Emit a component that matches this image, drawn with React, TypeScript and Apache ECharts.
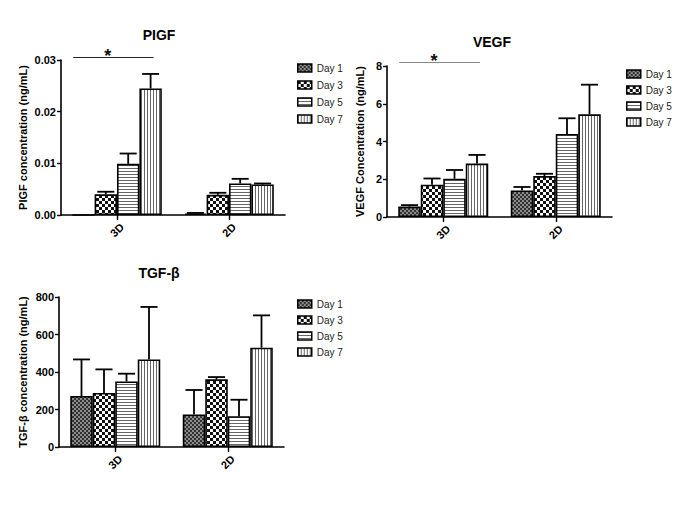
import React, { useEffect, useRef } from "react";
import * as echarts from "echarts";

const categories = ["3D", "2D"];
const dayNames = ["Day 1", "Day 3", "Day 5", "Day 7"];

// PIGF (ng/mL), values per category [3D, 2D]
const pigfDay1 = [0, 0.0003];
const pigfDay3 = [0.004, 0.0039];
const pigfDay5 = [0.0099, 0.0061];
const pigfDay7 = [0.0245, 0.0059];
const pigfErr1 = [0, 0.0001];
const pigfErr3 = [0.0005, 0.0004];
const pigfErr5 = [0.002, 0.0009];
const pigfErr7 = [0.0028, 0.0002];

// VEGF (ng/mL)
const vegfDay1 = [0.55, 1.41];
const vegfDay3 = [1.71, 2.17];
const vegfDay5 = [2.03, 4.4];
const vegfDay7 = [2.83, 5.44];
const vegfErr1 = [0.08, 0.18];
const vegfErr3 = [0.33, 0.12];
const vegfErr5 = [0.46, 0.83];
const vegfErr7 = [0.46, 1.57];

// TGF-beta (ng/mL)
const tgfDay1 = [272, 174];
const tgfDay3 = [288, 361];
const tgfDay5 = [350, 164];
const tgfDay7 = [467, 530];
const tgfErr1 = [195, 130];
const tgfErr3 = [126, 12];
const tgfErr5 = [41, 88];
const tgfErr7 = [280, 172];

// y-axis ticks
const pigfTicks = [0, 0.01, 0.02, 0.03];
const vegfTicks = [0, 2, 4, 6, 8];
const tgfTicks = [0, 200, 400, 600, 800];

// significance bars: level above the 3D group
const pigfSig = [0.0306];
const vegfSig = [8.21];

const FONT = "Liberation Sans, Arial, Helvetica, sans-serif";
const GAP = 0.2;

function makePattern(kind: string) {
  const cv = document.createElement("canvas");
  let w = 4, h = 4;
  if (kind === "fine") { w = 4; h = 4; }
  if (kind === "check") { w = 6; h = 6; }
  if (kind === "hline") { w = 3; h = 3; }
  if (kind === "vline") { w = 3; h = 3; }
  cv.width = w; cv.height = h;
  const ctx = cv.getContext("2d")!;
  if (kind === "fine") {
    ctx.fillStyle = "#8a8a8a"; ctx.fillRect(0, 0, 4, 4);
    ctx.fillStyle = "#333333"; ctx.fillRect(0, 0, 2, 2); ctx.fillRect(2, 2, 2, 2);
  } else if (kind === "check") {
    ctx.fillStyle = "#ffffff"; ctx.fillRect(0, 0, 6, 6);
    ctx.fillStyle = "#111111"; ctx.fillRect(0, 0, 3, 3); ctx.fillRect(3, 3, 3, 3);
  } else if (kind === "hline") {
    ctx.fillStyle = "#ffffff"; ctx.fillRect(0, 0, 3, 3);
    ctx.fillStyle = "#666666"; ctx.fillRect(0, 0, 3, 1);
  } else {
    ctx.fillStyle = "#ffffff"; ctx.fillRect(0, 0, 3, 3);
    ctx.fillStyle = "#666666"; ctx.fillRect(0, 0, 1, 3);
  }
  return { image: cv, repeat: "repeat", imageWidth: w, imageHeight: h };
}

export default function App() {
  const ref = useRef<HTMLDivElement>(null);
  useEffect(() => {
    document.body.style.margin = "0";
    const chart = echarts.init(ref.current!, null, { renderer: "svg" });
    const patterns = [makePattern("fine"), makePattern("check"), makePattern("hline"), makePattern("vline")];

    const panels = [
      {
        title: "PIGF", titleX: 159, titleY: 28,
        means: [pigfDay1, pigfDay3, pigfDay5, pigfDay7],
        errs: [pigfErr1, pigfErr3, pigfErr5, pigfErr7],
        ticks: pigfTicks, decimals: 2,
        yName: "PIGF concentration (ng/mL)", nameGap: 33,
        grid: { left: 61, top: 60, width: 224, height: 155 },
        legend: { left: 297, top: 63, itemGap: 7 },
        sig: pigfSig, sigColor: "#222",
      },
      {
        title: "VEGF", titleX: 492, titleY: 35,
        means: [vegfDay1, vegfDay3, vegfDay5, vegfDay7],
        errs: [vegfErr1, vegfErr3, vegfErr5, vegfErr7],
        ticks: vegfTicks, decimals: 0,
        yName: "VEGF Concentration (ng/mL)", nameGap: 22,
        grid: { left: 387, top: 66, width: 225, height: 151 },
        legend: { left: 626, top: 69, itemGap: 6 },
        sig: vegfSig, sigColor: "#888",
      },
      {
        title: "TGF-β", titleX: 159, titleY: 266,
        means: [tgfDay1, tgfDay3, tgfDay5, tgfDay7],
        errs: [tgfErr1, tgfErr3, tgfErr5, tgfErr7],
        ticks: tgfTicks, decimals: 0,
        yName: "TGF-β concentration (ng/mL)", nameGap: 31,
        grid: { left: 59, top: 297, width: 225, height: 150 },
        legend: { left: 297, top: 299, itemGap: 6 },
        sig: null as number[] | null, sigColor: "#222",
      },
    ];

    const series: any[] = [];
    panels.forEach((p, pi) => {
      p.means.forEach((m, k) => {
        series.push({
          type: "bar", name: dayNames[k], xAxisIndex: pi, yAxisIndex: pi,
          data: m, barGap: "0%", barCategoryGap: GAP * 100 + "%",
          itemStyle: { color: patterns[k], borderColor: "#000", borderWidth: 1.6 },
          emphasis: { disabled: true },
        });
      });
      const errData: number[][] = [];
      p.means.forEach((m, k) => m.forEach((v, c) => errData.push([c, k, v, p.errs[k][c]])));
      series.push({
        type: "custom", xAxisIndex: pi, yAxisIndex: pi, z: 5, clip: false,
        encode: { x: 0, y: 2 }, data: errData,
        renderItem: (params: any, api: any) => {
          const cat = api.value(0), k = api.value(1), v = api.value(2), e = api.value(3);
          if (!e) return null;
          const bandW = api.size([1, 0])[0];
          const groupW = bandW * (1 - GAP);
          const bw = groupW / 4;
          const base = api.coord([cat, v]);
          const top = api.coord([cat, v + e]);
          const x = base[0] - groupW / 2 + (k + 0.5) * bw;
          const st = { stroke: "#000", lineWidth: 1.8 };
          return {
            type: "group",
            children: [
              { type: "line", shape: { x1: x, y1: base[1], x2: x, y2: top[1] }, style: st },
              { type: "line", shape: { x1: x - bw * 0.38, y1: top[1], x2: x + bw * 0.38, y2: top[1] }, style: st },
            ],
          };
        },
      });
      if (p.sig) {
        const color = p.sigColor;
        series.push({
          type: "custom", xAxisIndex: pi, yAxisIndex: pi, z: 5, clip: false,
          encode: { x: 0, y: 1 }, data: p.sig.map((s) => [0, s]),
          renderItem: (params: any, api: any) => {
            const bandW = api.size([1, 0])[0];
            const groupW = bandW * (1 - GAP);
            const bw = groupW / 4;
            const c = api.coord([api.value(0), api.value(1)]);
            const x1 = c[0] - groupW / 2 + 1;
            const x2 = c[0] + groupW / 2 - bw / 2 + 3;
            const y = Math.round(c[1]) + 0.5;
            return {
              type: "group",
              children: [
                { type: "line", shape: { x1, y1: y, x2, y2: y }, style: { stroke: color, lineWidth: 1 } },
                {
                  type: "text", x: x1 + (x2 - x1) * 0.43, y: y - 2,
                  style: { text: "*", fill: "#111", font: `bold 18px ${FONT}`, textAlign: "center", textVerticalAlign: "middle" },
                },
              ],
            };
          },
        });
      }
    });

    const option: any = {
      animation: false,
      textStyle: { fontFamily: FONT },
      title: panels.map((p) => ({
        text: p.title, left: p.titleX, top: p.titleY, textAlign: "center", padding: 0,
        textStyle: { fontFamily: FONT, fontSize: 14, fontWeight: "bold", color: "#000" },
      })),
      legend: panels.map((p) => ({
        data: dayNames, orient: "vertical", left: p.legend.left, top: p.legend.top,
        itemGap: p.legend.itemGap, itemWidth: 14, itemHeight: 8, icon: "rect",
        selectedMode: false, padding: 0,
        itemStyle: { borderColor: "#000", borderWidth: 1.5 },
        textStyle: { fontFamily: FONT, fontSize: 10, color: "#222", padding: [0, 0, 0, 0] },
      })),
      grid: panels.map((p) => ({ ...p.grid, containLabel: false })),
      xAxis: panels.map((p, pi) => ({
        type: "category", gridIndex: pi, data: categories,
        axisLine: { show: true, lineStyle: { color: "#000", width: 1.6 } },
        axisTick: { show: true, alignWithLabel: true, length: 5, lineStyle: { color: "#000", width: 1.4 } },
        axisLabel: {
          rotate: 45, margin: 15, align: "center", verticalAlign: "middle",
          fontFamily: FONT, fontSize: 11, fontWeight: "bold", color: "#000",
        },
        splitLine: { show: false },
      })),
      yAxis: panels.map((p, pi) => ({
        type: "value", gridIndex: pi,
        min: p.ticks[0], max: p.ticks[p.ticks.length - 1], interval: p.ticks[1] - p.ticks[0],
        name: p.yName, nameLocation: "middle", nameGap: p.nameGap, nameRotate: 90,
        nameTextStyle: { fontFamily: FONT, fontSize: 11, fontWeight: "bold", color: "#000" },
        axisLine: { show: true, lineStyle: { color: "#000", width: 1.6 } },
        axisTick: { show: true, length: 4, lineStyle: { color: "#000", width: 1.4 } },
        axisLabel: {
          margin: 5, fontFamily: FONT, fontSize: 11, fontWeight: "bold", color: "#000",
          formatter: (v: number) => v.toFixed(p.decimals),
        },
        splitLine: { show: false },
      })),
      series,
    };
    chart.setOption(option);
    return () => chart.dispose();
  }, []);
  return <div ref={ref} style={{ width: 685, height: 513, background: "#fff" }} />;
}
